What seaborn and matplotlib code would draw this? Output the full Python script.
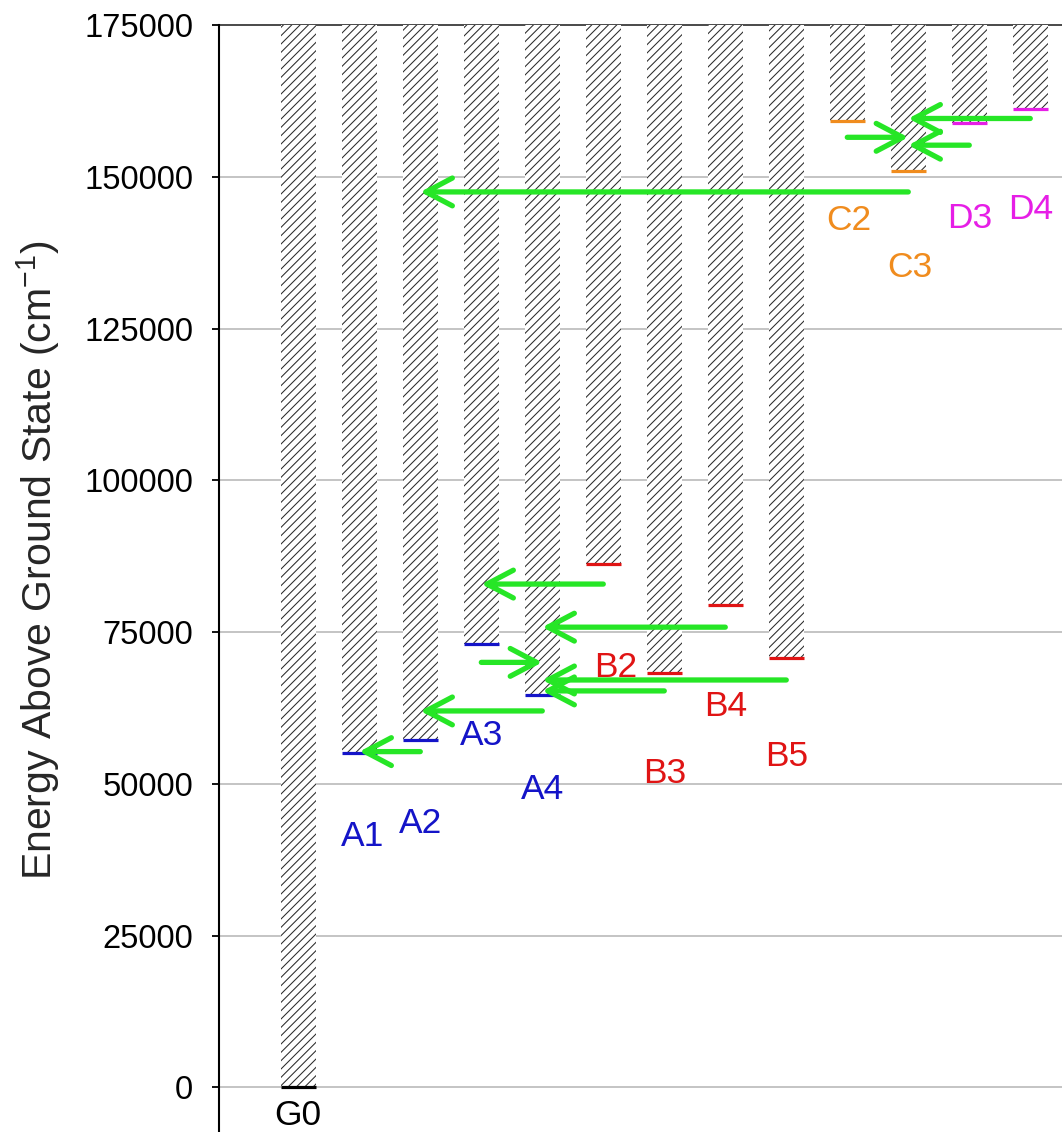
import matplotlib
matplotlib.use("Agg")
import matplotlib.pyplot as plt
import numpy as np
import pandas as pd
import seaborn as sns

# Energy levels (cm^-1) of each state
states = ["G0", "A1", "A2", "A3", "A4", "B2", "B3", "B4", "B5", "C2", "C3", "D3", "D4"]
energies = [0, 55000, 57200, 73100, 64600, 86200, 68300, 79400, 70700,
            159200, 150900, 158800, 161200]
families = ["G", "A", "A", "A", "A", "B", "B", "B", "B", "C", "C", "D", "D"]
ceiling = 175000

# Transitions: source state, target state, energy at which the arrow is drawn
arrow_from = ["A2", "A4", "B2", "B4", "A3", "B5", "B3", "C3", "C2", "D3", "D4"]
arrow_to = ["A1", "A2", "A3", "A4", "A4", "A4", "A4", "A2", "C3", "C3", "C3"]
arrow_energy = [55300, 62000, 82900, 75800, 70000, 67100, 65300,
                147500, 156500, 155200, 159600]

yticks = [0, 25000, 50000, 75000, 100000, 125000, 150000, 175000]

sns.set_style("white")
plt.rcParams["font.family"] = ["Liberation Sans", "DejaVu Sans"]
plt.rcParams["mathtext.fontset"] = "custom"
plt.rcParams["mathtext.rm"] = "Liberation Sans"
plt.rcParams["mathtext.it"] = "Liberation Sans:italic"
plt.rcParams["hatch.linewidth"] = 0.75
plt.rcParams["hatch.color"] = "#2a2a2a"

family_colors = {"G": "#000000", "A": "#1414c8", "B": "#e01414",
                 "C": "#f08c1e", "D": "#e61ee6"}
GREEN = "#26e626"

df = pd.DataFrame({"state": states, "energy": energies, "family": families})
df["span"] = ceiling - df["energy"]

W, H = 1062, 1132
fig = plt.figure(figsize=(W / 100, H / 100), dpi=100)
ax = fig.add_axes([219 / W, 0, 1 - 219 / W, 1 - 25 / H])

bar_width = 0.575

# Hatched column above each level, reaching up to the top of the scale
sns.barplot(data=df, x="state", y="span", order=states, errorbar=None,
            bottom=df["energy"].to_numpy(), width=bar_width, color="white",
            saturation=1, edgecolor="#2a2a2a", linewidth=0,
            hatch="////", ax=ax, zorder=1)

xpos = np.arange(len(states))
idx = {s: i for i, s in enumerate(states)}

# Level markers
ax.hlines(df["energy"], xpos - bar_width / 2, xpos + bar_width / 2,
          colors=[family_colors[f] for f in families], lw=2.3, zorder=3)

# Transition arrows
for src, dst, e in zip(arrow_from, arrow_to, arrow_energy):
    ax.annotate("", xy=(idx[dst], e), xytext=(idx[src], e),
                arrowprops=dict(arrowstyle="->,head_length=1.9,head_width=1.0",
                                color=GREEN, lw=3.8, shrinkA=0, shrinkB=0,
                                mutation_scale=10),
                zorder=4)

# State labels, placed below each level
label_shift = {"G0": (0.0, 4100), "A1": (0.05, 13050), "A2": (0.0, 13150),
               "A3": (0.0, 14650), "A4": (0.0, 15000), "B2": (0.2, 16500),
               "B3": (0.0, 16000), "B4": (0.0, 16100), "B5": (0.0, 15650),
               "C2": (0.03, 15850), "C3": (0.03, 15350), "D3": (0.0, 15100),
               "D4": (0.0, 16000)}
for s, e, f in zip(states, energies, families):
    dx, dy = label_shift[s]
    ax.text(idx[s] + dx, e - dy, s, color=family_colors[f], fontsize=25.5,
            ha="center", va="center_baseline", zorder=5)

# Gridlines and frame
for v in yticks[:-1]:
    ax.axhline(v, color="#b4b4b4", lw=1.1, zorder=0)
ax.axhline(ceiling, color="#3c3c3c", lw=1.3, zorder=0.5, clip_on=False)

ax.set_xlim(-1.30, 12.52)
ax.set_ylim(-7364, ceiling)
ax.set_xticks([])
ax.set_xlabel("")
ax.set_ylabel("")
ax.set_yticks(yticks)
ax.set_yticklabels([str(v) for v in yticks], fontsize=23.5)
ax.tick_params(axis="y", left=True, direction="out", length=5, width=1.3,
               pad=13.5, colors="black")
for side in ["top", "right", "bottom"]:
    ax.spines[side].set_visible(False)
ax.spines["left"].set_color("black")
ax.spines["left"].set_linewidth(1.5)

fig.text(52 / W, 1 - 560 / H, "Energy Above Ground State (cm$^{-1}$)",
         rotation=90, rotation_mode="anchor", ha="center", va="baseline",
         fontsize=29.5)

fig.savefig("out.png", dpi=100)
